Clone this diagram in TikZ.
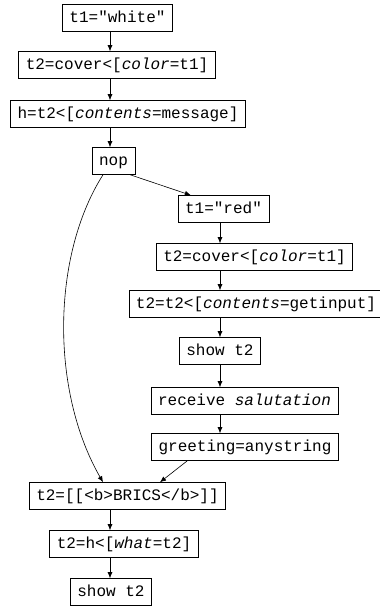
\documentclass[tikz,border=0pt]{standalone}
\usepackage{fontspec}
\setmonofont{Liberation Mono}
\usetikzlibrary{arrows.meta}
\tikzset{every picture/.style={x=1pt,y=-1pt}}
\tikzset{stmt/.style={rectangle,draw,line width=0.6pt,inner xsep=7pt,inner ysep=0pt,minimum height=27pt,font=\fontsize{16}{19}\ttfamily,text height=11pt,text depth=3pt}}
\tikzset{edge/.style={line width=0.6pt,-{Latex[length=6pt,width=5pt]}}}

\begin{document}
\begin{tikzpicture}
\useasboundingbox (0,0) rectangle (380,608);
\coordinate (lx) at (110,0);
\coordinate (rx) at (220,0);
\node [stmt] (white) at (117.5,18) {t1="white"};
\node [stmt] (cover1) at (117,65) {t2=cover<[\textit{color}=t1]};
\node [stmt] (h) at (128,114) {h=t2<[\textit{contents}=message]};
\node [stmt] (nop) at (113.5,161) {nop};
\node [stmt] (red) at (223.5,209) {t1="red"};
\node [stmt] (cover2) at (254.5,257) {t2=cover<[\textit{color}=t1]};
\node [stmt] (input) at (256,304) {t2=t2<[\textit{contents}=getinput]};
\node [stmt] (show1) at (220,351) {show t2};
\node [stmt] (recv) at (244.5,401) {receive \textit{salutation}};
\node [stmt] (greet) at (245,447) {greeting=anystring};
\node [stmt] (brics) at (127.5,496) {t2=[[<b>BRICS</b>]]};
\node [stmt] (what) at (124,544) {t2=h<[\textit{what}=t2]};
\node [stmt] (show2) at (111,592) {show t2};

\draw [edge] (white.south -| lx) -- (cover1.north -| lx);
\draw [edge] (cover1.south -| lx) -- (h.north -| lx);
\draw [edge] (h.south -| lx) -- (nop.north -| lx);
\draw [edge] ([xshift=-5pt]nop.south east) -- ([xshift=13pt]red.north west);
\draw [edge] ([xshift=-10.5pt]nop.south) .. controls (52,255) and (50,390) .. ([xshift=-24.5pt]brics.north);

\draw [edge] (red.south -| rx) -- (cover2.north -| rx);
\draw [edge] (cover2.south -| rx) -- (input.north -| rx);
\draw [edge] (input.south -| rx) -- (show1.north -| rx);
\draw [edge] (show1.south -| rx) -- (recv.north -| rx);
\draw [edge] (recv.south -| rx) -- (greet.north -| rx);
\draw [edge] ([xshift=36pt]greet.south west) -- ([xshift=32.5pt]brics.north);

\draw [edge] (brics.south -| lx) -- (what.north -| lx);
\draw [edge] (what.south -| lx) -- (show2.north -| lx);
\end{tikzpicture}
\end{document}
